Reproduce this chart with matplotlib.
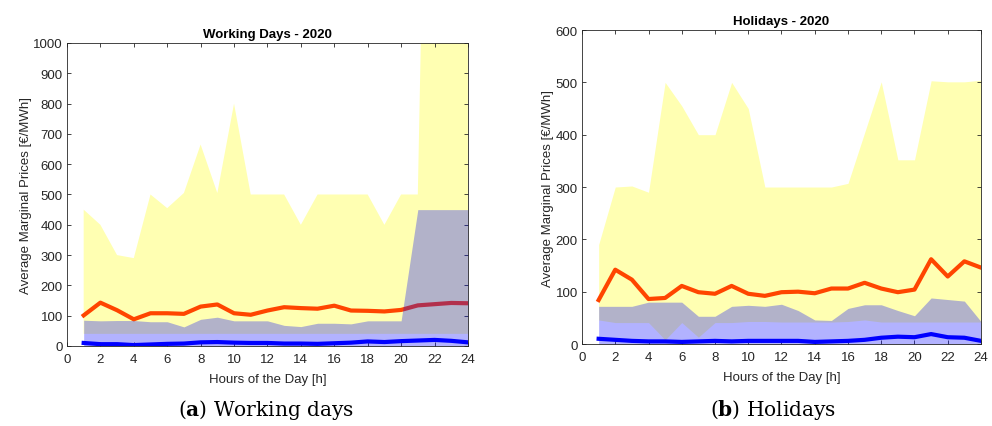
import numpy as np
import matplotlib
matplotlib.use("Agg")
import matplotlib.pyplot as plt

plt.rcParams['font.family'] = ['Liberation Sans', 'DejaVu Sans']
plt.rcParams['mathtext.fontset'] = 'custom'
plt.rcParams['mathtext.rm'] = 'DejaVu Serif'
plt.rcParams['mathtext.bf'] = 'DejaVu Serif:bold'

hours = np.arange(1, 25)

# working days
wd_max = [450, 400, 300, 290, 500, 455, 505, 665, 505, 800, 500, 500,
          500, 400, 500, 500, 500, 500, 400, 500, 500, 3300, 3300, 3300]
wd_min = [40] * 24
wd_band = [85, 83, 84, 84, 80, 80, 63, 88, 95, 83, 83, 83,
           68, 64, 75, 75, 73, 83, 83, 83, 450, 450, 450, 450]
wd_mean = [101, 143, 118, 88, 108, 108, 106, 130, 137, 108, 103, 117,
           128, 125, 123, 133, 117, 116, 114, 119, 134, 138, 142, 141]
wd_low = [10, 6, 6, 3, 5, 7, 8, 12, 13, 11, 10, 10,
          8, 8, 7, 9, 11, 15, 13, 16, 18, 20, 17, 12]

# holidays
hd_max = [190, 300, 302, 290, 500, 455, 400, 400, 500, 450, 300, 300,
          300, 300, 300, 307, 404, 501, 352, 352, 503, 501, 501, 504]
hd_min = [46, 41, 41, 41, 8, 41, 13, 41, 41, 43, 43, 42,
          42, 42, 42, 43, 46, 42, 42, 42, 42, 42, 42, 42]
hd_band = [72, 72, 72, 80, 80, 80, 53, 53, 72, 74, 72, 76,
           64, 46, 45, 68, 75, 75, 64, 54, 88, 85, 82, 43]
hd_mean = [84, 142, 123, 86, 88, 111, 99, 96, 111, 96, 92, 99,
           100, 97, 106, 106, 117, 106, 99, 104, 162, 129, 158, 146]
hd_low = [10, 8, 6, 5, 5, 4, 5, 6, 5, 6, 6, 6,
          6, 4, 5, 6, 8, 12, 14, 13, 19, 13, 12, 6]

grey = '#262626'
fs = 9.5
fig = plt.figure(figsize=(9.92, 4.27), dpi=100)


def panel(rect, title, vmax, vmin, band, mean, low, ymax):
    ax = fig.add_axes(rect)
    ax.fill_between(hours, vmin, vmax, color='yellow', alpha=0.3, lw=0, zorder=1)
    ax.plot(hours, mean, color='#ff4500', lw=3, zorder=2)
    ax.plot(hours, low, color='blue', lw=3, zorder=2)
    # blue band goes on top of the lines
    ax.fill_between(hours, 0, band, color='blue', alpha=0.3, lw=0, zorder=3)
    ax.set_xlim(0, 24)
    ax.set_ylim(0, ymax)
    ax.set_xticks(range(0, 25, 2))
    ax.set_yticks(range(0, ymax + 1, 100))
    ax.tick_params(direction='in', top=True, right=True, labelsize=fs,
                   colors=grey, length=3, width=0.6, pad=3)
    ax.tick_params(axis='x', pad=5)
    for s in ax.spines.values():
        s.set_color(grey)
        s.set_linewidth(0.6)
        s.set_zorder(4)
    ax.set_title(title, fontsize=fs, fontweight='bold', pad=4)
    ax.set_xlabel('Hours of the Day [h]', fontsize=fs, color=grey, labelpad=6)
    ax.set_ylabel('Average Marginal Prices [€/MWh]', fontsize=fs, color=grey,
                  labelpad=1)
    return ax


panel([0.0675, 0.1874, 0.4042, 0.7096], 'Working Days - 2020',
      wd_max, wd_min, wd_band, wd_mean, wd_low, 1000)
panel([0.5867, 0.192, 0.4022, 0.7354], 'Holidays - 2020',
      hd_max, hd_min, hd_band, hd_mean, hd_low, 600)

fig.text(0.268, 0.025, r'($\mathbf{a}$) Working days', ha='center',
         fontsize=14.5, family='DejaVu Serif')
fig.text(0.779, 0.025, r'($\mathbf{b}$) Holidays', ha='center',
         fontsize=14.5, family='DejaVu Serif')

fig.savefig('out.png', dpi=100)
